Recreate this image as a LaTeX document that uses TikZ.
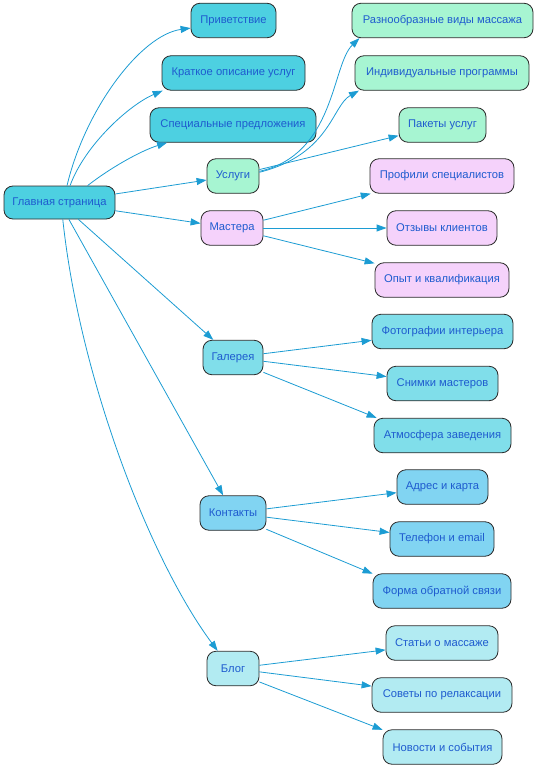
\documentclass[tikz,border=0pt]{standalone}
\usepackage{fontspec}
\setmainfont{Liberation Sans}
\usetikzlibrary{arrows.meta}
\definecolor{ctop}{HTML}{4DD0E1}
\definecolor{cmint}{HTML}{A7F5D2}
\definecolor{cpink}{HTML}{F5D2FB}
\definecolor{cgal}{HTML}{80DEEA}
\definecolor{ckon}{HTML}{81D4F2}
\definecolor{cblog}{HTML}{B2EBF2}
\definecolor{cedge}{HTML}{1C9CD3}
\definecolor{ctext}{HTML}{1E5BCF}
\definecolor{cborder}{HTML}{2B2B2B}
\tikzset{
  box/.style={draw=cborder, line width=0.8pt, rounded corners=9pt, minimum height=34.5pt,
    inner sep=0pt, text=ctext, font=\fontsize{11.2}{13}\selectfont, align=center},
  link/.style={draw=cedge, line width=0.8pt, -{Triangle[length=10pt,width=7pt]}},
}
\begin{document}
\begin{tikzpicture}[x=1pt,y=-1pt]
\useasboundingbox (0,0) rectangle (538,768);
% left / middle column
\node[box, fill=ctop, minimum width=111pt, minimum height=33pt] (main) at (59.5,202.5) {Главная страница};
\node[box, fill=ctop, minimum width=85pt] (priv) at (233.5,20.5) {Приветствие};
\node[box, fill=ctop, minimum width=143pt] (krat) at (233.5,73) {Краткое описание услуг};
\node[box, fill=ctop, minimum width=166pt] (spec) at (233,125) {Специальные предложения};
\node[box, fill=cmint, minimum width=52pt] (usl) at (233,176) {Услуги};
\node[box, fill=cpink, minimum width=62pt] (mas) at (232,228) {Мастера};
\node[box, fill=cgal, minimum width=60pt] (gal) at (233,357.5) {Галерея};
\node[box, fill=ckon, minimum width=66pt] (kon) at (233,513) {Контакты};
\node[box, fill=cblog, minimum width=52pt] (blog) at (233,668.5) {Блог};
% right column
\node[box, fill=cmint, minimum width=181pt] (raz) at (442.5,20.5) {Разнообразные виды массажа};
\node[box, fill=cmint, minimum width=174pt] (ind) at (442,73) {Индивидуальные программы};
\node[box, fill=cmint, minimum width=87pt] (pak) at (442.5,125) {Пакеты услуг};
\node[box, fill=cpink, minimum width=144pt] (prof) at (442,176) {Профили специалистов};
\node[box, fill=cpink, minimum width=110pt] (otz) at (442,228) {Отзывы клиентов};
\node[box, fill=cpink, minimum width=134pt] (opyt) at (442,280) {Опыт и квалификация};
\node[box, fill=cgal, minimum width=141pt] (foto) at (442.5,331.5) {Фотографии интерьера};
\node[box, fill=cgal, minimum width=111pt] (snim) at (442.5,383.5) {Снимки мастеров};
\node[box, fill=cgal, minimum width=137pt] (atm) at (442.5,435.5) {Атмосфера заведения};
\node[box, fill=ckon, minimum width=91pt] (adr) at (442.5,487) {Адрес и карта};
\node[box, fill=ckon, minimum width=104pt] (tel) at (442,539) {Телефон и email};
\node[box, fill=ckon, minimum width=138pt] (forma) at (442,591) {Форма обратной связи};
\node[box, fill=cblog, minimum width=112pt] (stat) at (442,643) {Статьи о массаже};
\node[box, fill=cblog, minimum width=140pt] (sov) at (442,695) {Советы по релаксации};
\node[box, fill=cblog, minimum width=119pt] (nov) at (442.5,747) {Новости и события};
% main edges
\draw[link] (main.66) .. controls +(18,-76) and +(-50,7) .. (priv.190);
\draw[link] (main.58) .. controls +(15,-41) and +(-33,14) .. (krat.194);
\draw[link] (main.31) .. controls +(23,-18) and +(-26,8) .. (spec.195);
\draw[link] (main) -- (usl);
\draw[link] (main) -- (mas);
\draw[link] (main) -- (gal);
\draw[link] (main) -- (kon);
\draw[link] (main.281) .. controls +(17,160) and +(-67,-90) .. (blog.131);
% services
\draw[link] (usl.10) .. controls +(76,-17) and +(-28,27) .. (raz.192);
\draw[link] (usl.8) .. controls +(71,-18) and +(-27,15) .. (ind.192);
\draw[link] (usl) -- (pak);
% masters
\draw[link] (mas) -- (prof);
\draw[link] (mas) -- (otz);
\draw[link] (mas) -- (opyt);
% gallery
\draw[link] (gal) -- (foto);
\draw[link] (gal) -- (snim);
\draw[link] (gal.-26) -- (atm.165);
% contacts
\draw[link] (kon) -- (adr);
\draw[link] (kon) -- (tel);
\draw[link] (kon.-26) -- (forma.166);
% blog
\draw[link] (blog) -- (stat);
\draw[link] (blog) -- (sov);
\draw[link] (blog.-27) -- (nov.164);
\end{tikzpicture}
\end{document}
